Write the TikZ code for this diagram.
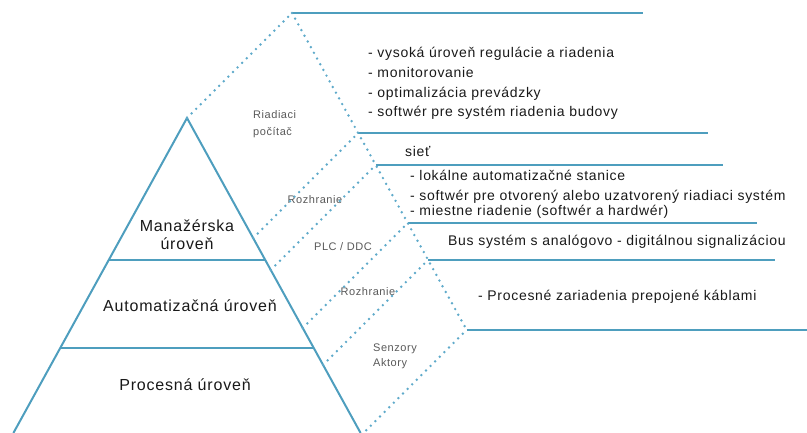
\documentclass[tikz,border=0pt]{standalone}
\usepackage{fontspec}
\setmainfont{Liberation Sans}[LetterSpace=5]
\usetikzlibrary{calc}
\definecolor{pyrblue}{RGB}{78,158,190}
\definecolor{dotblue}{RGB}{95,170,202}
\tikzstyle{rim} = [draw, line width=2pt, pyrblue]
\tikzstyle{link} = [draw, line width=2.7pt, dotblue, line cap=round,
    dash pattern=on 0pt off 6.5pt]
\tikzstyle{tier} = [font=\fontsize{16}{19}\selectfont, text=black!90,
    inner sep=0pt, anchor=base]
\tikzstyle{item} = [font=\fontsize{14}{16}\selectfont, text=black!90,
    inner sep=0pt, anchor=base west]
\tikzstyle{tag} = [font=\fontsize{11}{13}\selectfont, text=black!65,
    inner sep=0pt, anchor=base]

\begin{document}
\begin{tikzpicture}[x=1pt, y=-1pt]
    \useasboundingbox (0,0) rectangle (807,433);
    % Pyramid corners
    \coordinate (apex) at (187,118);
    \coordinate (bl) at (13.4,433);
    \coordinate (br) at (360.6,433);
    \coordinate (s1l) at ($(apex)!0.4508!(bl)$);
    \coordinate (s1r) at ($(apex)!0.4508!(br)$);
    \coordinate (s2l) at ($(apex)!0.7302!(bl)$);
    \coordinate (s2r) at ($(apex)!0.7302!(br)$);
    % Points on the right edge and their shifted partners
    \coordinate (e1) at ($(apex)!0.381!(br)$);
    \coordinate (e2) at ($(apex)!0.4825!(br)$);
    \coordinate (e3) at ($(apex)!0.6667!(br)$);
    \coordinate (e4) at ($(apex)!0.784!(br)$);
    \coordinate (e5) at ($(apex)!1.006!(br)$);
    \coordinate (p0) at ($(apex)+(105,-105)$);
    \coordinate (p1) at ($(e1)+(105,-105)$);
    \coordinate (p2) at ($(e2)+(105,-105)$);
    \coordinate (p3) at ($(e3)+(105,-105)$);
    \coordinate (p4) at ($(e4)+(105,-105)$);
    \coordinate (p5) at ($(e5)+(105,-105)$);
    % Right ends of the shelves
    \coordinate (end0) at (643,0);
    \coordinate (end1) at (708,0);
    \coordinate (end2) at (723,0);
    \coordinate (end3) at (757,0);
    \coordinate (end4) at (775,0);
    \coordinate (end5) at (807,0);

    % Place nodes
    \node[tier] (man) at (187,232) {Manažérska};
    \node[tier] (man2) at (187,250) {úroveň};
    \node[tier] (aut) at (190,312) {Automatizačná úroveň};
    \node[tier] (proc) at (185,390) {Procesná úroveň};

    \node[tag, anchor=base west] (pc1) at (253,119) {Riadiaci};
    \node[tag, anchor=base west] (pc2) at (253,136) {počítač};
    \node[tag] (roz1) at (315,204) {Rozhranie};
    \node[tag] (plc) at (343,251) {PLC / DDC};
    \node[tag] (roz2) at (368,295) {Rozhranie};
    \node[tag, anchor=base west] (sen) at (373,351) {Senzory};
    \node[tag, anchor=base west] (akt) at (373,366) {Aktory};

    \node[item] (v1) at (368,58) {- vysoká úroveň regulácie a riadenia};
    \node[item] (v2) at (368,78) {- monitorovanie};
    \node[item] (v3) at (368,98) {- optimalizácia prevádzky};
    \node[item] (v4) at (368,117) {- softwér pre systém riadenia budovy};
    \node[item] (net) at (405,157) {sieť};
    \node[item] (a1) at (410,181) {- lokálne automatizačné stanice};
    \node[item] (a2) at (410,201) {- softwér pre otvorený alebo uzatvorený riadiaci systém};
    \node[item] (a3) at (410,216) {- miestne riadenie (softwér a hardwér)};
    \node[item] (bus) at (448,246) {Bus systém s analógovo - digitálnou signalizáciou};
    \node[item] (dev) at (478,301) {- Procesné zariadenia prepojené káblami};

    % Draw pyramid
    \path [rim] (bl) -- (apex) -- (br);
    \path [rim] (s1l) -- (s1r);
    \path [rim] (s2l) -- (s2r);
    % Draw shelves
    \path [rim] (p0) -- (p0 -| end0);
    \path [rim] (p1) -- (p1 -| end1);
    \path [rim] (p2) -- (p2 -| end2);
    \path [rim] (p3) -- (p3 -| end3);
    \path [rim] (p4) -- (p4 -| end4);
    \path [rim] (p5) -- (p5 -| end5);
    % Draw dotted links
    \path [link] (apex) -- (p0);
    \path [link] (e1) -- (p1);
    \path [link] (e2) -- (p2);
    \path [link] (e3) -- (p3);
    \path [link] (e4) -- (p4);
    \path [link] (e5) -- (p5);
    \path [link] (p0) -- (p5);
\end{tikzpicture}
\end{document}
